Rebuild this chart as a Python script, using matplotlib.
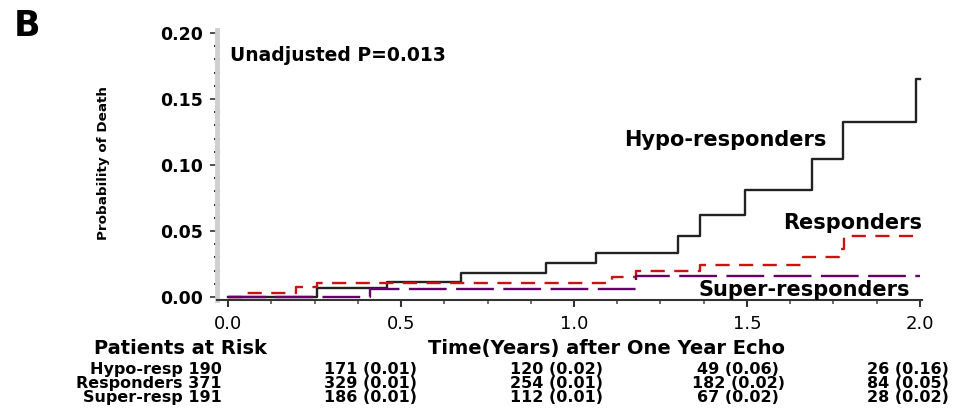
import matplotlib
matplotlib.use("Agg")
import matplotlib.pyplot as plt
from matplotlib.ticker import MultipleLocator

# ---- data ----
hypo_t = [0.0, 0.256, 0.46, 0.672, 0.92, 1.064, 1.30, 1.364, 1.494, 1.687, 1.778, 1.988, 2.0]
hypo_p = [0.0, 0.0065, 0.0116, 0.0183, 0.0254, 0.0335, 0.046, 0.0624, 0.0808, 0.1047, 0.1328, 0.165, 0.165]

resp_t = [0.0, 0.046, 0.195, 0.256, 1.11, 1.18, 1.364, 1.662, 1.765, 1.78, 2.0]
resp_p = [0.0, 0.0033, 0.0078, 0.0103, 0.0149, 0.0199, 0.0241, 0.030, 0.036, 0.046, 0.046]

super_t = [0.0, 0.41, 1.18, 2.0]
super_p = [0.0, 0.0058, 0.0158, 0.0158]

group_labels = ["Hypo-resp 190", "Responders 371", "Super-resp 191"]
risk_hypo = ["171 (0.01)", "120 (0.02)", "49 (0.06)", "26 (0.16)"]
risk_resp = ["329 (0.01)", "254 (0.01)", "182 (0.02)", "84 (0.05)"]
risk_super = ["186 (0.01)", "112 (0.01)", "67 (0.02)", "28 (0.02)"]
xticks = [0.0, 0.5, 1.0, 1.5, 2.0]
yticks = [0.00, 0.05, 0.10, 0.15, 0.20]

W, H = 961, 411
fig = plt.figure(figsize=(W / 100, H / 100), dpi=100)
ax = fig.add_axes([217 / W, 1 - 300 / H, (922 - 217) / W, (300 - 30) / H])

ax.step(hypo_t, hypo_p, where="post", color="#222222", lw=1.7)
ax.step(resp_t, resp_p, where="post", color="#cc1111", lw=1.7, dashes=(6, 4))
ax.step(super_t, super_p, where="post", color="#660066", lw=1.7, dashes=(16, 4))

ax.set_xlim(-0.032, 2.006)
ax.set_ylim(-0.0023, 0.2023)
ax.set_xticks(xticks)
ax.set_xticklabels([f"{v:.1f}" for v in xticks])
ax.set_yticks(yticks)
ax.set_yticklabels([f"{v:.2f}" for v in yticks])
ax.xaxis.set_minor_locator(MultipleLocator(0.125))
ax.yaxis.set_minor_locator(MultipleLocator(0.01))

for s in ["top", "right"]:
    ax.spines[s].set_visible(False)
ax.spines["left"].set_color("#d0d0d0")
ax.spines["left"].set_linewidth(3.5)
ax.spines["bottom"].set_color("#333333")
ax.spines["bottom"].set_linewidth(1.5)

ax.tick_params(axis="y", which="major", direction="out", length=5, width=1.2,
               color="#333333", pad=5, labelsize=12.5)
ax.tick_params(axis="y", which="minor", direction="inout", length=4.5, width=1.5,
               color="#333333")
ax.tick_params(axis="x", which="major", direction="out", length=5, width=1.5,
               color="#333333", pad=6, labelsize=13)
ax.tick_params(axis="x", which="minor", direction="out", length=3, width=1.2,
               color="#555555")
for lab in ax.get_yticklabels():
    lab.set_fontweight("bold")

ax.text(0.006, 0.183, "Unadjusted P=0.013", fontsize=13.5, fontweight="bold",
        ha="left", va="center")
ax.text(1.73, 0.119, "Hypo-responders", fontsize=15, fontweight="semibold",
        ha="right", va="center")
ax.text(2.006, 0.056, "Responders", fontsize=15, fontweight="semibold",
        ha="right", va="center")
ax.text(1.97, 0.0053, "Super-responders", fontsize=15, fontweight="semibold",
        ha="right", va="center")

def fx(px):
    return px / W

def fy(py):
    return 1 - py / H

fig.text(fx(14), fy(26), "B", fontsize=25, fontweight="bold", ha="left", va="center")
fig.text(fx(103), fy(163), "Probability of Death", rotation=90, fontsize=9.7,
         fontweight="bold", ha="center", va="center")

fig.text(fx(180), fy(348), "Patients at Risk", fontsize=14, fontweight="bold",
         ha="center", va="center")
fig.text(fx(607), fy(348), "Time(Years) after One Year Echo", fontsize=14,
         fontweight="bold", ha="center", va="center")

row_y = [369, 383, 397]
col_x = [370, 556, 738, 908]
rows = [risk_hypo, risk_resp, risk_super]
for ry, glab, vals in zip(row_y, group_labels, rows):
    fig.text(fx(222), fy(ry), glab, fontsize=11.5, fontweight="bold",
             ha="right", va="center")
    for cx, v in zip(col_x, vals):
        fig.text(fx(cx), fy(ry), v, fontsize=11.5, fontweight="bold",
                 ha="center", va="center")

fig.savefig("out.png", dpi=100)
